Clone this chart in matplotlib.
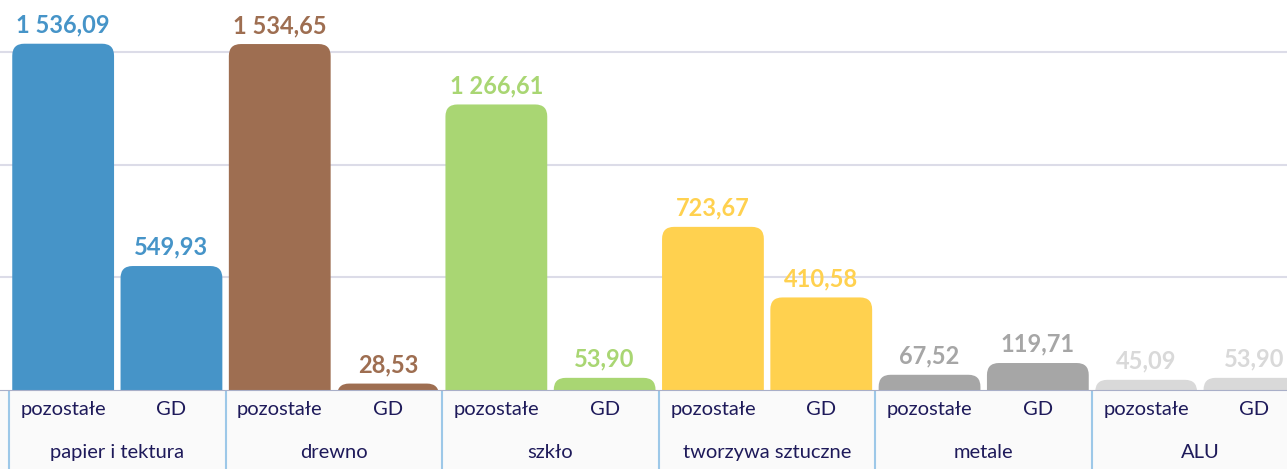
import matplotlib
matplotlib.use("Agg")
import matplotlib.pyplot as plt
from matplotlib.patches import FancyBboxPatch

categories = ["papier i tektura", "drewno", "szkło", "tworzywa sztuczne", "metale", "ALU"]
sub_labels = ["pozostałe", "GD"]
values_pozostale = [1536.09, 1534.65, 1266.61, 723.67, 67.52, 45.09]
values_gd = [549.93, 28.53, 53.90, 410.58, 119.71, 53.90]
colors = ["#4694C8", "#9E6E51", "#A9D673", "#FFD14F", "#A6A6A6", "#D9D9D9"]

plt.rcParams['font.family'] = ['Lato', 'DejaVu Sans']

W, H = 1287, 469
fig = plt.figure(figsize=(W / 100, H / 100), dpi=100)
base_px = 390
ax = fig.add_axes([0, (H - base_px) / H, 1, base_px / H])
tab = fig.add_axes([0, 0, 1, (H - base_px) / H], sharex=ax)

slot_px = 108.3
left_px = 9
xlim = (-left_px / slot_px, (W - left_px) / slot_px)
ymax = 1730
ax.set_xlim(*xlim)
ax.set_ylim(0, ymax)

bar_w = 0.94
x_units_per_px = 1 / slot_px
y_units_per_px = ymax / base_px
aspect = y_units_per_px / x_units_per_px
radius = 12 * x_units_per_px

def fmt(v):
    s = f"{v:,.2f}"
    return s.replace(",", " ").replace(".", ",")

for i, cat in enumerate(categories):
    for j, v in enumerate([values_pozostale[i], values_gd[i]]):
        xc = 2 * i + j + 0.5
        ext = 300
        p = FancyBboxPatch((xc - bar_w / 2, -ext), bar_w, v + ext,
                           boxstyle=f"round,pad=0,rounding_size={radius}",
                           mutation_aspect=aspect, facecolor=colors[i],
                           edgecolor="none", zorder=3)
        ax.add_patch(p)
        ax.annotate(fmt(v), (xc, v), xytext=(0, 8), textcoords="offset points",
                    ha="center", va="baseline", fontsize=17, fontweight="bold",
                    color=colors[i], zorder=4)

for yv in [500, 1000, 1500]:
    ax.axhline(yv, color="#DCDCE8", lw=1.5, zorder=1)
for s in ax.spines.values():
    s.set_visible(False)
ax.set_xticks([])
ax.set_yticks([])

tab.set_facecolor("#FAFAFA")
tab.set_ylim(0, 1)
tab.set_yticks([])
tab.tick_params(bottom=False, labelbottom=False)
for s in ["left", "right", "bottom"]:
    tab.spines[s].set_visible(False)
tab.spines["top"].set_color("#A9AFC8")
tab.spines["top"].set_linewidth(0.8)
txt_color = "#1E1A5A"
for i, cat in enumerate(categories):
    tab.axvline(2 * i, color="#9DC8E8", lw=1.5)
    for j, lab in enumerate(sub_labels):
        tab.text(2 * i + j + 0.5, 0.75, lab, ha="center", va="center",
                 fontsize=14.5, color=txt_color)
    tab.text(2 * i + 1, 0.21, cat, ha="center", va="center",
             fontsize=14.5, color=txt_color)
tab.axvline(12, color="#9DC8E8", lw=1.5)

fig.savefig("out.png", dpi=100)
